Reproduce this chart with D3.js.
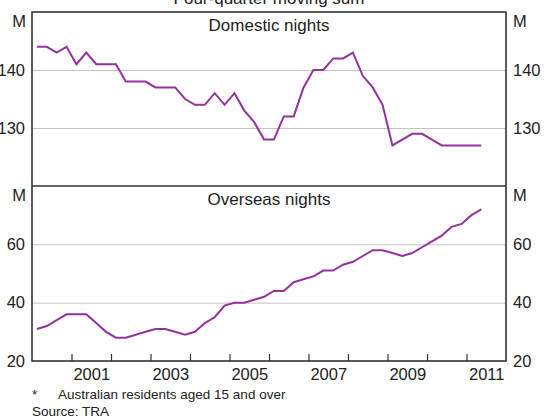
<!DOCTYPE html>
<html>
<head>
<meta charset="utf-8">
<script src="https://cdn.jsdelivr.net/npm/d3@7"></script>
<style>
  html, body { margin: 0; padding: 0; background: #fff; }
  svg { display: block; }
  text { font-family: Arial, "Liberation Sans", sans-serif; fill: #222; }
</style>
</head>
<body>
<svg id="chart" width="551" height="420"></svg>
<script>
// ---- data (quarterly, Mar-2000 .. Jun-2011), millions of nights ----
const startYear = 2000;
const domesticNights = [144,144,143,144,141,143,141,141,141,138,138,138,137,137,137,135,
  134,134,136,134,136,133,131,128,128,132,132,137,140,140,142,142,143,139,137,134,
  127,128,129,129,128,127,127,127,127,127];
const overseasNights = [31,32,34,36,36,36,33,30,28,28,29,30,31,31,30,29,30,33,35,39,
  40,40,41,42,44,44,47,48,49,51,51,53,54,56,58,58,57,56,57,59,61,63,66,67,70,72];
const yearLabels = [2001,2003,2005,2007,2009,2011];
const yearTicks = [2001,2002,2003,2004,2005,2006,2007,2008,2009,2010,2011];
const topTicks = [130,140];
const bottomTicks = [20,40,60];
const topDomain = [120,150];
const bottomDomain = [20,80];

const svg = d3.select("#chart");
const L = 32, R = 506, T = 12, MID = 186, B = 361;
const purple = "#93329e";
const frameCol = "#333";
const gridCol = "#c4c4c4";

const x = d3.scaleLinear().domain([2000, 2012]).range([L, R]);
const yTop = d3.scaleLinear().domain(topDomain).range([MID, T]);
const yBot = d3.scaleLinear().domain(bottomDomain).range([B, MID]);
const tq = i => startYear + i * 0.25 + 0.125;

// gridlines
function grid(scale, vals) {
  const g = svg.append("g").attr("transform", `translate(${L},0)`)
    .call(d3.axisLeft(scale).tickValues(vals).tickSize(-(R - L)).tickFormat(""));
  g.select(".domain").remove();
  g.selectAll("line").attr("stroke", gridCol).attr("stroke-width", 1);
}
grid(yTop, topTicks);
grid(yBot, bottomTicks.filter(v => v !== 20));

// value labels left and right
function labels(scale, vals) {
  const gl = svg.append("g").attr("transform", `translate(${L},0)`)
    .call(d3.axisLeft(scale).tickValues(vals).tickSize(0).tickPadding(7));
  const gr = svg.append("g").attr("transform", `translate(${R},0)`)
    .call(d3.axisRight(scale).tickValues(vals).tickSize(0).tickPadding(7));
  [gl, gr].forEach(g => {
    g.select(".domain").remove();
    g.selectAll("text").attr("font-size", 16.5).attr("fill", "#222")
      .attr("font-family", 'Arial, "Liberation Sans", sans-serif');
  });
}
labels(yTop, topTicks);
labels(yBot, bottomTicks);

// "M" unit labels
[T, MID].forEach(top => {
  svg.append("text").attr("x", L - 6).attr("y", top + 14.5)
    .attr("text-anchor", "end").attr("font-size", 16.5).text("M");
  svg.append("text").attr("x", R + 7).attr("y", top + 14.5)
    .attr("text-anchor", "start").attr("font-size", 16.5).text("M");
});

// lines
const lineTop = d3.line().x((d, i) => x(tq(i))).y(d => yTop(d));
const lineBot = d3.line().x((d, i) => x(tq(i))).y(d => yBot(d));
svg.append("path").datum(domesticNights).attr("d", lineTop)
  .attr("fill", "none").attr("stroke", purple).attr("stroke-width", 2)
  .attr("stroke-linejoin", "miter");
svg.append("path").datum(overseasNights).attr("d", lineBot)
  .attr("fill", "none").attr("stroke", purple).attr("stroke-width", 2)
  .attr("stroke-linejoin", "miter");

// x ticks (pointing up from bottom axis)
const gx = svg.append("g").attr("transform", `translate(0,${B})`)
  .call(d3.axisBottom(x).tickValues(yearTicks).tickSize(-7).tickFormat(""));
gx.select(".domain").remove();
gx.selectAll("line").attr("stroke", frameCol).attr("stroke-width", 1.2);

// year labels centred in each year
const gxl = svg.append("g").attr("transform", `translate(0,${B})`)
  .call(d3.axisBottom(x).tickValues(yearLabels.map(d => d + 0.5))
    .tickSize(0).tickPadding(7).tickFormat(d => String(Math.floor(d))));
gxl.select(".domain").remove();
gxl.selectAll("text").attr("font-size", 16.5).attr("fill", "#222")
  .attr("font-family", 'Arial, "Liberation Sans", sans-serif');

// frame
svg.append("rect").attr("x", L).attr("y", T).attr("width", R - L).attr("height", B - T)
  .attr("fill", "none").attr("stroke", frameCol).attr("stroke-width", 1.6);
svg.append("line").attr("x1", L).attr("x2", R).attr("y1", MID).attr("y2", MID)
  .attr("stroke", frameCol).attr("stroke-width", 1.6);

// titles
const cx = (L + R) / 2;
svg.append("text").attr("x", cx).attr("y", 4).attr("text-anchor", "middle")
  .attr("font-size", 17).text("Four-quarter moving sum");
svg.append("text").attr("x", cx).attr("y", T + 19).attr("text-anchor", "middle")
  .attr("font-size", 17).text("Domestic nights");
svg.append("text").attr("x", cx).attr("y", MID + 19).attr("text-anchor", "middle")
  .attr("font-size", 17).text("Overseas nights");

// footnotes
svg.append("text").attr("x", 32).attr("y", 399).attr("font-size", 13.5).text("*");
svg.append("text").attr("x", 58).attr("y", 399).attr("font-size", 13.5)
  .text("Australian residents aged 15 and over");
svg.append("text").attr("x", 32).attr("y", 416).attr("font-size", 13.5).text("Source: TRA");
</script>
</body>
</html>
